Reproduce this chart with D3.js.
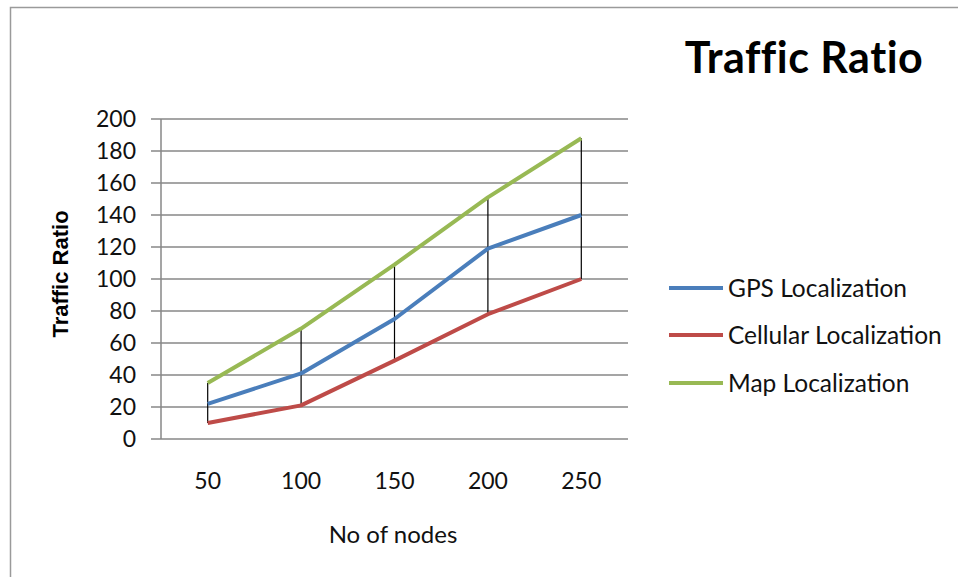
<!DOCTYPE html>
<html><head><meta charset="utf-8">
<script src="https://cdn.jsdelivr.net/npm/d3@7"></script>
<style>body{margin:0;background:#fff}svg{display:block}text{font-family:Lato,"Open Sans",sans-serif}</style>
</head><body>
<script>
const categories = ["50","100","150","200","250"];
const gps = [22, 41, 75, 119, 140];
const cellular = [10, 21, 49, 78, 100];
const mapLoc = [35, 69, 109, 151, 188];
const yTicks = [0,20,40,60,80,100,120,140,160,180,200];
const seriesNames = ["GPS Localization","Cellular Localization","Map Localization"];
const seriesColors = ["#4a7ebb","#be4b48","#98b954"];

(function(){
const W = 958, H = 577;
const svg = d3.select("body").append("svg").attr("width", W).attr("height", H);
svg.append("rect").attr("width", W).attr("height", H).attr("fill", "#fff");
// outer frame
svg.append("path").attr("d", `M10.5,${H} V7.5 H${W}`).attr("fill","none").attr("stroke","#9a9a9a").attr("stroke-width",1.5);

const pL = 161, pR = 628, pT = 119, pB = 439;
const x = d3.scaleBand().domain(categories).range([pL, pR]);
const y = d3.scaleLinear().domain([0, 200]).range([pB, pT]);

// gridlines
svg.append("g").selectAll("line").data(yTicks).join("line")
  .attr("x1", pL - 10).attr("x2", pR).attr("y1", d => y(d)).attr("y2", d => y(d))
  .attr("stroke", "#878787").attr("stroke-width", 1.5);
// y axis line
svg.append("line").attr("x1", pL).attr("x2", pL).attr("y1", pT).attr("y2", pB)
  .attr("stroke", "#878787").attr("stroke-width", 1.5);

// y tick labels
svg.append("g").selectAll("text").data(yTicks).join("text")
  .attr("x", 136).attr("y", d => y(d)).attr("dy", "0.36em").attr("text-anchor", "end")
  .attr("font-size", 23).attr("fill", "#111").text(d => d);
// x tick labels
svg.append("g").selectAll("text").data(categories).join("text")
  .attr("x", d => x(d) + x.bandwidth()/2).attr("y", 481).attr("dy", "0.36em").attr("text-anchor", "middle")
  .attr("font-size", 23).attr("fill", "#111").text(d => d);

// high-low lines
const all = [gps, cellular, mapLoc];
svg.append("g").selectAll("line").data(categories).join("line")
  .attr("x1", d => x(d) + x.bandwidth()/2).attr("x2", d => x(d) + x.bandwidth()/2)
  .attr("y1", (d,i) => y(d3.max(all, s => s[i]))).attr("y2", (d,i) => y(d3.min(all, s => s[i])))
  .attr("stroke", "#000").attr("stroke-width", 1.2);

// series lines
const line = d3.line().x((d,i) => x(categories[i]) + x.bandwidth()/2).y(d => y(d));
all.forEach((s, k) => {
  svg.append("path").datum(s).attr("d", line).attr("fill", "none")
    .attr("stroke", seriesColors[k]).attr("stroke-width", 4).attr("stroke-linejoin", "round");
});

// title
svg.append("text").attr("x", 804).attr("y", 73)
  .attr("text-anchor", "middle").attr("letter-spacing", 0.5)
  .attr("font-size", 43).attr("font-weight", "bold").attr("fill", "#000").text("Traffic Ratio");
// y axis title
svg.append("text").attr("transform", "translate(68,274) rotate(-90)")
  .attr("text-anchor", "middle").attr("font-size", 22).attr("font-weight", "bold")
  .style("font-family", "'Liberation Sans', Arial, sans-serif").attr("fill", "#000").text("Traffic Ratio");
// x axis title
svg.append("text").attr("x", 393).attr("y", 534).attr("dy", "0.36em").attr("text-anchor", "middle")
  .attr("font-size", 24).attr("fill", "#111").text("No of nodes");

// legend
const legY = [288, 335, 383];
seriesNames.forEach((n, k) => {
  svg.append("line").attr("x1", 669).attr("x2", 723).attr("y1", legY[k]).attr("y2", legY[k])
    .attr("stroke", seriesColors[k]).attr("stroke-width", 4);
  svg.append("text").attr("x", 728).attr("y", legY[k]).attr("dy", "0.36em")
    .attr("font-size", 24.5).attr("fill", "#111").text(n);
});
})();
</script>
</body></html>
